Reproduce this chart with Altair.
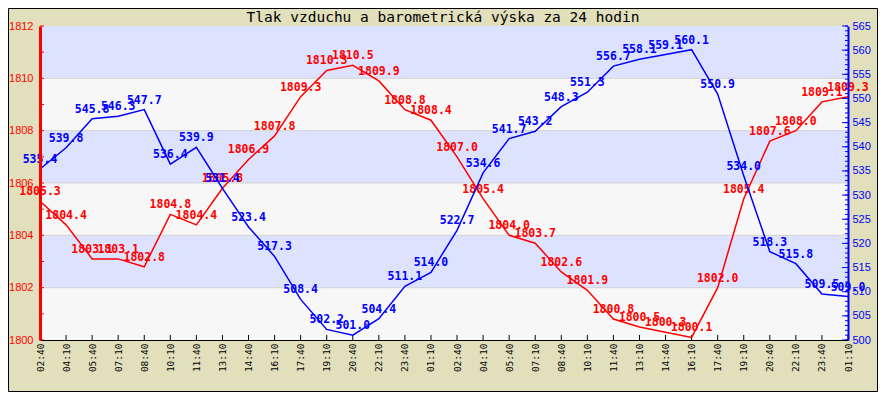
import altair as alt
import pandas as pd

times = ["02:40", "04:10", "05:40", "07:10", "08:40", "10:10", "11:40", "13:10",
         "14:40", "16:10", "17:40", "19:10", "20:40", "22:10", "23:40", "01:10",
         "02:40", "04:10", "05:40", "07:10", "08:40", "10:10", "11:40", "13:10",
         "14:40", "16:10", "17:40", "19:10", "20:40", "22:10", "23:40", "01:10"]

pressure = [1805.3, 1804.4, 1803.1, 1803.1, 1802.8, 1804.8, 1804.4, 1805.8,
            1806.9, 1807.8, 1809.3, 1810.3, 1810.5, 1809.9, 1808.8, 1808.4,
            1807.0, 1805.4, 1804.0, 1803.7, 1802.6, 1801.9, 1800.8, 1800.5,
            1800.3, 1800.1, 1802.0, 1805.4, 1807.6, 1808.0, 1809.1, 1809.3]

baro = [535.4, 539.8, 545.8, 546.3, 547.7, 536.4, 539.9, 531.4,
        523.4, 517.3, 508.4, 502.2, 501.0, 504.4, 511.1, 514.0,
        522.7, 534.6, 541.7, 543.2, 548.3, 551.3, 556.7, 558.1,
        559.1, 560.1, 550.9, 534.0, 518.3, 515.8, 509.5, 509.0]

band_lo = [1810, 1806, 1802]
band_hi = [1812, 1808, 1804]
grid_vals = [1802, 1804, 1806, 1808, 1810]
p_ticks = list(range(1800, 1813))
p_labels = list(range(1800, 1813, 2))
b_ticks = list(range(500, 566))
b_labels = list(range(500, 566, 5))

title = "Tlak vzduchu a barometrická výska za 24 hodin"

W, H = 808, 314
RED = "#ff0000"
BLUE = "#0000ff"
BAND = "#dde3ff"
PLOT_BG = "#f7f7f7"
GRID = "#d4d4d4"
BG = "#e1dfbc"

idx = list(range(len(times)))
df = pd.DataFrame({"i": idx, "t": times, "p": pressure, "b": baro})
df["pl"] = [f"{v:.1f}" for v in pressure]
df["bl"] = [f"{v:.1f}" for v in baro]

bands_df = pd.DataFrame({"lo": band_lo, "hi": band_hi})
grid_df = pd.DataFrame({"g": grid_vals})
pt_df = pd.DataFrame({"v": p_ticks})
bt_df = pd.DataFrame({"v": b_ticks})
btm_df = pd.DataFrame({"v": b_labels})
xt_df = pd.DataFrame({"i": idx})
title_df = pd.DataFrame({"title": [title]})

lab_js = "[" + ",".join(f"'{t}'" for t in times) + "]"

x_scale = alt.Scale(domain=[0, len(times) - 1], nice=False, zero=False)
x_axis = alt.Axis(values=idx, labelExpr=f"{lab_js}[datum.value]", labelAngle=270,
                  labelAlign="right", labelBaseline="middle",
                  labelFont="DejaVu Sans Mono", labelFontSize=9.5, labelColor="black",
                  labelPadding=3, ticks=False, grid=False, domainColor="black",
                  domainWidth=1, title=None, labelOverlap=False, zindex=1)

p_scale = alt.Scale(domain=[1800, 1812], nice=False, zero=False)
p_axis = alt.Axis(orient="left", values=p_labels, format="d", labelColor=RED,
                  labelFont="Liberation Sans", labelFontSize=11, labelPadding=7,
                  ticks=False, grid=False, domainColor=RED, domainWidth=3,
                  title=None, labelOverlap=False, labelBaseline="middle", zindex=1)

b_scale = alt.Scale(domain=[500, 565], nice=False, zero=False)
b_axis = alt.Axis(orient="right", values=b_labels, format="d", labelColor=BLUE,
                  labelFont="Liberation Sans", labelFontSize=11, labelPadding=4,
                  ticks=False, grid=False, domainColor=BLUE, domainWidth=2,
                  title=None, labelOverlap=False, labelBaseline="middle", zindex=1)

label_font = dict(font="DejaVu Sans Mono", fontSize=11.5, fontWeight="bold",
                  dy=-6, baseline="alphabetic", align="center")

bands = alt.Chart(bands_df).mark_rect(color=BAND).encode(
    x=alt.value(0), x2=alt.value(W),
    y=alt.Y("lo:Q", scale=p_scale, axis=p_axis), y2="hi:Q")

grid = alt.Chart(grid_df).mark_rule(color=GRID, strokeWidth=1).encode(
    x=alt.value(0), x2=alt.value(W),
    y=alt.Y("g:Q", scale=p_scale, axis=p_axis))

xticks = alt.Chart(xt_df).mark_rule(color="black", strokeWidth=1).encode(
    x=alt.X("i:Q", scale=x_scale, axis=x_axis),
    y=alt.value(H), y2=alt.value(H - 5))

pticks = alt.Chart(pt_df).mark_rule(color=RED, strokeWidth=1).encode(
    x=alt.value(0), x2=alt.value(4),
    y=alt.Y("v:Q", scale=p_scale, axis=p_axis))

red_line = alt.Chart(df).mark_line(color=RED, strokeWidth=1.5).encode(
    x=alt.X("i:Q", scale=x_scale, axis=x_axis),
    y=alt.Y("p:Q", scale=p_scale, axis=p_axis))

red_text = alt.Chart(df).mark_text(color=RED, **label_font).encode(
    x=alt.X("i:Q", scale=x_scale, axis=x_axis),
    y=alt.Y("p:Q", scale=p_scale, axis=p_axis),
    text="pl:N")

border = alt.Chart(pd.DataFrame({"z": [0]})).mark_rect(
    filled=False, stroke="black", strokeWidth=1).encode(
    x=alt.value(-31.5), x2=alt.value(W + 29.5),
    y=alt.value(-17.5), y2=alt.value(H + 51.5))

title_mark = alt.Chart(title_df).mark_text(
    font="DejaVu Sans Mono", fontSize=14.5, color="black", align="center",
    baseline="alphabetic").encode(
    x=alt.value(W / 2 - 1), y=alt.value(-4.5), text="title:N")

left = alt.layer(bands, grid, xticks, pticks, red_line, red_text, border, title_mark)

bticks = alt.Chart(bt_df).mark_rule(color=BLUE, strokeWidth=1).encode(
    x=alt.value(W), x2=alt.value(W - 3),
    y=alt.Y("v:Q", scale=b_scale, axis=b_axis))

bticks_major = alt.Chart(btm_df).mark_rule(color=BLUE, strokeWidth=1).encode(
    x=alt.value(W), x2=alt.value(W - 6),
    y=alt.Y("v:Q", scale=b_scale, axis=b_axis))

blue_line = alt.Chart(df).mark_line(color=BLUE, strokeWidth=1.5).encode(
    x=alt.X("i:Q", scale=x_scale, axis=x_axis),
    y=alt.Y("b:Q", scale=b_scale, axis=b_axis))

blue_text = alt.Chart(df).mark_text(color=BLUE, **label_font).encode(
    x=alt.X("i:Q", scale=x_scale, axis=x_axis),
    y=alt.Y("b:Q", scale=b_scale, axis=b_axis),
    text="bl:N")

right = alt.layer(bticks, bticks_major, blue_line, blue_text)

chart = alt.layer(left, right).resolve_scale(y="independent").properties(
    width=W, height=H,
    autosize=alt.AutoSizeParams(type="none"),
    padding={"left": 32, "top": 18, "right": 30, "bottom": 52},
    background=BG,
).configure_view(fill=PLOT_BG, stroke="transparent")

chart.save("out.html", embed_options={"renderer": "svg", "actions": False})
